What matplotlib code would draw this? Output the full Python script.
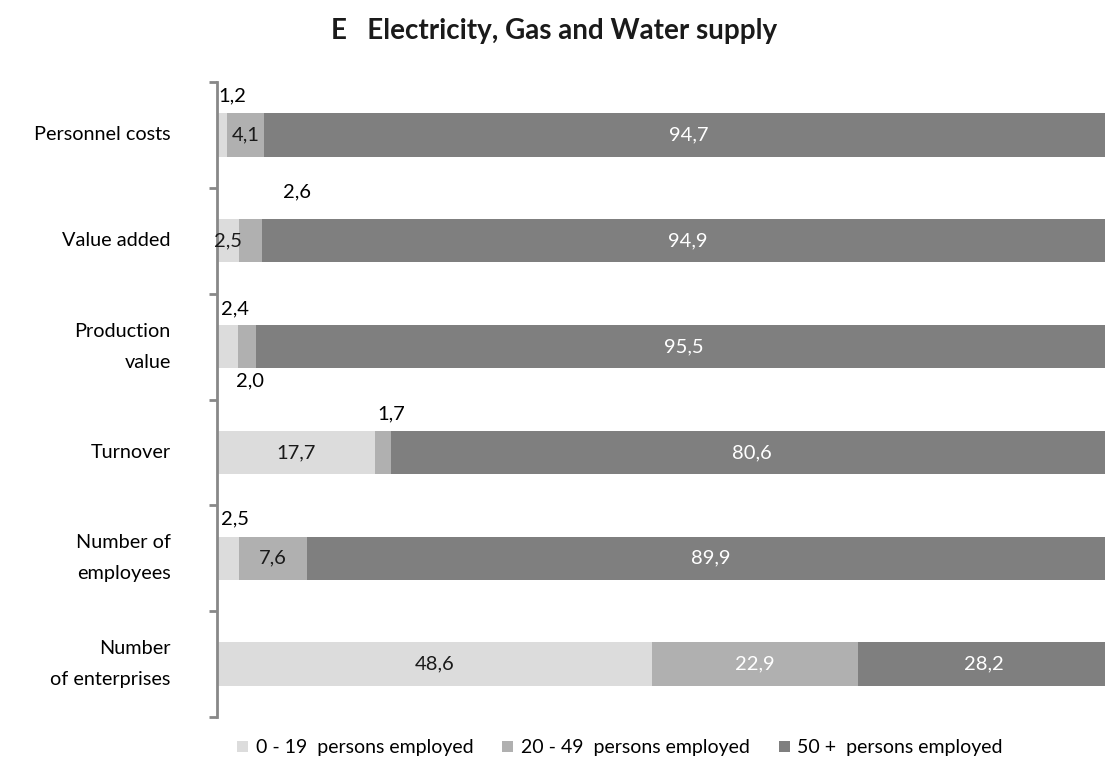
import matplotlib
matplotlib.use("Agg")
import matplotlib.pyplot as plt
from matplotlib.patches import Patch
import numpy as np

categories = ["Personnel costs", "Value added", "Production\nvalue", "Turnover",
              "Number of\nemployees", "Number\nof enterprises"]
series_names = ["0 - 19  persons employed", "20 - 49  persons employed", "50 +  persons employed"]
small = [1.2, 2.5, 2.4, 17.7, 2.5, 48.6]
medium = [4.1, 2.6, 2.0, 1.7, 7.6, 22.9]
large = [94.7, 94.9, 95.5, 80.6, 89.9, 28.2]

colors = ["#dcdcdc", "#b0b0b0", "#7f7f7f"]
label_colors = ["#1a1a1a", "#1a1a1a", "white"]

# labels of narrow segments are moved outside the bar: (series, category) -> (x, y offset)
outside = {
    (0, 0): (1.75, -0.37),
    (1, 1): (8.97, -0.46),
    (0, 2): (2.07, -0.36),
    (1, 2): (3.70, 0.32),
    (1, 3): (19.45, -0.36),
    (0, 4): (2.10, -0.37),
}
# white labels in the medium segment of the enterprises bar
label_color_override = {(1, 5): "white"}

plt.rcParams["font.family"] = ["Lato", "DejaVu Sans"]

fig = plt.figure(figsize=(11.05, 7.63), dpi=100)
ax = fig.add_axes([216.5 / 1105, 46 / 763, 1 - 216.5 / 1105, (717 - 82) / 763])

y = np.arange(len(categories))
data = [small, medium, large]
left = np.zeros(len(categories))
for si, vals in enumerate(data):
    vals = np.array(vals)
    ax.barh(y, vals, left=left, height=0.41, color=colors[si], edgecolor="none",
            label=series_names[si])
    for ci, v in enumerate(vals):
        txt = f"{v:.1f}".replace(".", ",")
        if (si, ci) in outside:
            xo, dy = outside[(si, ci)]
            ax.text(xo, y[ci] + dy, txt, ha="center", va="center", fontsize=14.5,
                    color="black")
        else:
            c = label_color_override.get((si, ci), label_colors[si])
            ax.text(left[ci] + v / 2, y[ci], txt, ha="center", va="center",
                    fontsize=14.5, color=c)
    left = left + vals

ax.set_xlim(0, (1105 - 216.5) / 8.97)
ax.set_ylim(len(categories) - 0.5, -0.5)

for s in ["top", "right", "bottom"]:
    ax.spines[s].set_visible(False)
ax.spines["left"].set_color("#888888")
ax.spines["left"].set_linewidth(2.0)
ax.set_xticks([])
ax.set_yticks(y)
ax.set_yticklabels(categories, fontsize=14.3, linespacing=2.0)
for t in ax.get_yticklabels():
    t.set_verticalalignment("center")
ax.tick_params(axis="y", which="major", length=0, pad=33)
ax.set_yticks(np.arange(-0.5, len(categories)), minor=True)
ax.tick_params(axis="y", which="minor", length=6, width=2.0, color="#888888",
               direction="out")

fig.text(554 / 1105, 1 - 31 / 763, "E   Electricity, Gas and Water supply",
         ha="center", va="center", fontsize=20, fontweight="bold", color="#1a1a1a")

handles = [Patch(facecolor=c, edgecolor="none") for c in colors]
fig.legend(handles, series_names, loc="center", bbox_to_anchor=(620 / 1105, 1 - 748 / 763),
           ncol=3, frameon=False, fontsize=14, handlelength=0.55, handleheight=0.55,
           handletextpad=0.4, columnspacing=1.5)

fig.savefig("out.png", dpi=100)
